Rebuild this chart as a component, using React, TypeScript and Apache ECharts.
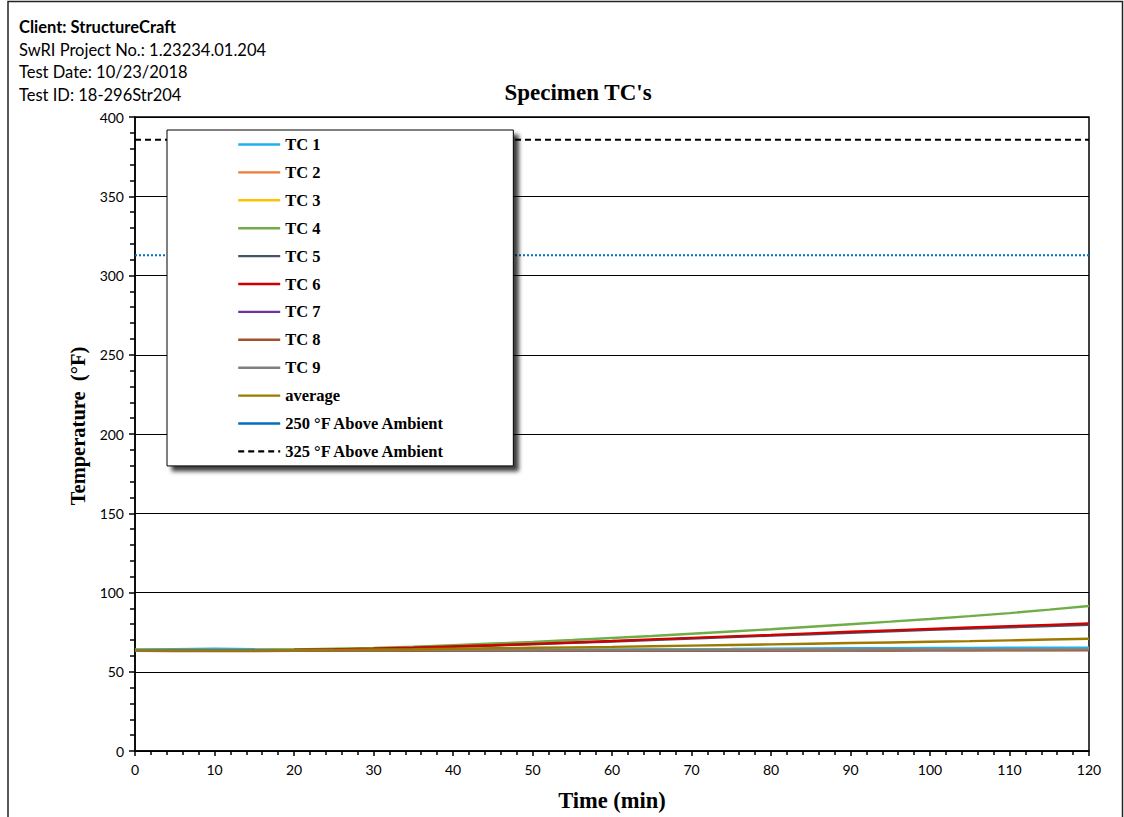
import React, { useEffect, useRef } from "react";
import * as echarts from "echarts";

const headerLines = [
  "Client: StructureCraft",
  "SwRI Project No.: 1.23234.01.204",
  "Test Date: 10/23/2018",
  "Test ID: 18-296Str204",
];
const chartTitle = "Specimen TC's";
const xTitle = "Time (min)";
const yTitle = "Temperature  (°F)";

const timeMin = [0, 5, 10, 15, 20, 25, 30, 35, 40, 45, 50, 55, 60, 65, 70, 75, 80, 85, 90, 95, 100, 105, 110, 115, 120];

const tc1 = [64.0, 64.3, 64.6, 64.2, 63.9, 63.8, 63.7, 63.8, 63.8, 63.9, 63.9, 64.0, 64.1, 64.2, 64.3, 64.4, 64.6, 64.7, 64.8, 64.9, 65.0, 65.0, 65.1, 65.2, 65.2];
const tc2 = [63.3, 63.2, 63.2, 63.3, 63.3, 63.3, 63.4, 63.4, 63.4, 63.4, 63.5, 63.5, 63.5, 63.5, 63.5, 63.6, 63.6, 63.6, 63.6, 63.6, 63.7, 63.7, 63.7, 63.7, 63.8];
const tc3 = [63.5, 63.4, 63.4, 63.4, 63.5, 63.5, 63.6, 63.6, 63.6, 63.7, 63.7, 63.7, 63.8, 63.8, 63.8, 63.8, 63.9, 63.9, 63.9, 63.9, 64.0, 64.0, 64.0, 64.0, 64.1];
const tc4 = [63.8, 63.7, 63.6, 63.7, 64.0, 64.5, 65.0, 65.8, 66.8, 67.8, 68.8, 70.0, 71.3, 72.6, 74.0, 75.4, 76.8, 78.4, 80.0, 81.6, 83.3, 85.1, 87.0, 89.2, 91.5];
const tc5 = [63.5, 63.4, 63.4, 63.5, 63.7, 64.0, 64.4, 65.0, 65.7, 66.5, 67.3, 68.2, 69.1, 70.0, 71.0, 71.9, 72.8, 73.7, 74.6, 75.5, 76.4, 77.2, 78.0, 78.9, 79.6];
const tc6 = [63.6, 63.5, 63.5, 63.6, 63.8, 64.1, 64.5, 65.1, 65.9, 66.7, 67.6, 68.5, 69.4, 70.4, 71.4, 72.3, 73.2, 74.2, 75.2, 76.1, 77.0, 77.9, 78.8, 79.6, 80.4];
const tc7 = [63.4, 63.3, 63.3, 63.3, 63.4, 63.4, 63.4, 63.5, 63.5, 63.5, 63.5, 63.5, 63.6, 63.6, 63.6, 63.6, 63.6, 63.7, 63.7, 63.7, 63.7, 63.7, 63.8, 63.8, 63.8];
const tc8 = [63.2, 63.1, 63.1, 63.1, 63.2, 63.2, 63.2, 63.2, 63.3, 63.3, 63.3, 63.3, 63.3, 63.3, 63.4, 63.4, 63.4, 63.4, 63.4, 63.4, 63.5, 63.5, 63.5, 63.5, 63.5];
const tc9 = [63.6, 63.5, 63.5, 63.5, 63.6, 63.6, 63.6, 63.7, 63.7, 63.7, 63.7, 63.8, 63.8, 63.8, 63.8, 63.9, 63.9, 63.9, 63.9, 64.0, 64.0, 64.0, 64.0, 64.0, 64.1];
const average = [63.6, 63.5, 63.5, 63.5, 63.7, 63.8, 64.0, 64.2, 64.5, 64.8, 65.1, 65.4, 65.7, 66.1, 66.5, 66.9, 67.3, 67.7, 68.1, 68.5, 68.9, 69.3, 69.8, 70.3, 70.8];

const ref250 = 312.8;
const ref325 = 385.7;
const refRange = [0, 120];

const seriesNames = ["TC 1", "TC 2", "TC 3", "TC 4", "TC 5", "TC 6", "TC 7", "TC 8", "TC 9", "average"];
const seriesValues = [tc1, tc2, tc3, tc4, tc5, tc6, tc7, tc8, tc9, average];
const seriesColors = ["#1FB0EE", "#ED7D31", "#FFC000", "#70AD47", "#44546A", "#D00000", "#7030A0", "#A0522D", "#7F7F7F", "#9C7A00"];

const SERIF = "'Liberation Serif', 'Times New Roman', serif";
const SANS = "Lato, 'Liberation Sans', sans-serif";

export default function App() {
  const ref = useRef<HTMLDivElement>(null);
  useEffect(() => {
    if (!ref.current) return;
    const chart = echarts.init(ref.current, null, { renderer: "svg" });
    const tcSeries = seriesNames.map((name, i) => ({
      name,
      type: "line",
      symbol: "none",
      lineStyle: { color: seriesColors[i], width: 2.4 },
      itemStyle: { color: seriesColors[i] },
      data: timeMin.map((t, j) => [t, seriesValues[i][j]]),
      z: 2 + i,
    }));
    const refNames = ["250 °F Above Ambient", "325 °F Above Ambient"];
    const refSeries = [
      {
        name: refNames[0],
        type: "line",
        symbol: "none",
        lineStyle: { color: "#0070C0", width: 2, type: [2, 2] },
        itemStyle: { color: "#0070C0" },
        data: refRange.map((t) => [t, ref250]),
      },
      {
        name: refNames[1],
        type: "line",
        symbol: "none",
        lineStyle: { color: "#000000", width: 2, type: [6, 4] },
        itemStyle: { color: "#000000" },
        data: refRange.map((t) => [t, ref325]),
      },
    ];
    const option: any = {
      animation: false,
      backgroundColor: "#ffffff",
      grid: { left: 135, top: 117, width: 954, height: 644, show: true, borderColor: "#000", borderWidth: 1.5, backgroundColor: "transparent" },
      xAxis: {
        type: "value",
        min: 0,
        max: 120,
        interval: 10,
        name: xTitle,
        nameLocation: "middle",
        nameGap: 38,
        nameTextStyle: { fontFamily: SERIF, fontWeight: "bold", fontSize: 22.5, color: "#000" },
        axisLine: { show: true, lineStyle: { color: "#000", width: 1.5 } },
        axisTick: { show: true, length: 5, lineStyle: { color: "#000", width: 1.5 } },
        minorTick: { show: true, splitNumber: 5, length: 4, lineStyle: { color: "#000", width: 1.5 } },
        splitLine: { show: false },
        axisLabel: { fontFamily: SANS, fontSize: 14, color: "#000", margin: 11 },
      },
      yAxis: {
        type: "value",
        min: 0,
        max: 400,
        interval: 50,
        name: yTitle,
        nameLocation: "middle",
        nameGap: 39,
        nameTextStyle: { fontFamily: SERIF, fontWeight: "bold", fontSize: 20.5, color: "#000", padding: [0, 0, 0, 16] },
        axisLine: { show: true, lineStyle: { color: "#000", width: 1.5 } },
        axisTick: { show: true, length: 6, lineStyle: { color: "#000", width: 1.5 } },
        minorTick: { show: true, splitNumber: 5, length: 5, lineStyle: { color: "#000", width: 1.5 } },
        splitLine: { show: true, lineStyle: { color: "#000", width: 1.2 } },
        axisLabel: { fontFamily: SANS, fontSize: 14, color: "#000", margin: 11 },
      },
      legend: {
        orient: "vertical",
        left: 167,
        top: 130,
        padding: [6, 68, 6, 70],
        itemWidth: 42,
        itemHeight: 16,
        itemGap: 10.9,
        backgroundColor: "#fff",
        borderColor: "#000",
        borderWidth: 1,
        shadowColor: "rgba(0,0,0,0.75)",
        shadowBlur: 4,
        shadowOffsetX: 5,
        shadowOffsetY: 5,
        itemStyle: { opacity: 0 },
        lineStyle: { width: 2.4 },
        textStyle: { fontFamily: SERIF, fontWeight: "bold", fontSize: 16.5, color: "#000" },
        data: [
          ...seriesNames.map((n) => ({ name: n })),
          { name: refNames[0], lineStyle: { type: "solid", width: 2.4 } },
          { name: refNames[1], lineStyle: { width: 2.4 } },
        ],
      },
      graphic: [
        { type: "rect", silent: true, shape: { x: 8, y: 1.5, width: 1114.5, height: 830 }, style: { fill: "none", stroke: "#222", lineWidth: 1.5 }, z: 100 },
        ...headerLines.map((t, i) => ({
          type: "text",
          left: 19,
          top: 18.5 + i * 22.5,
          style: { text: t, fontFamily: SANS, fontSize: 16.5, fontWeight: i === 0 ? "bold" : "normal", fill: "#000" },
        })),
        {
          type: "text",
          x: 578,
          y: 92,
          style: { text: chartTitle, fontFamily: SERIF, fontSize: 23, fontWeight: "bold", fill: "#000", align: "center", verticalAlign: "middle" },
        },
      ],
      series: [...tcSeries, ...refSeries],
    };
    chart.setOption(option);
    return () => chart.dispose();
  }, []);
  return <div ref={ref} style={{ position: "absolute", left: 0, top: 0, width: 1124, height: 817 }} />;
}
